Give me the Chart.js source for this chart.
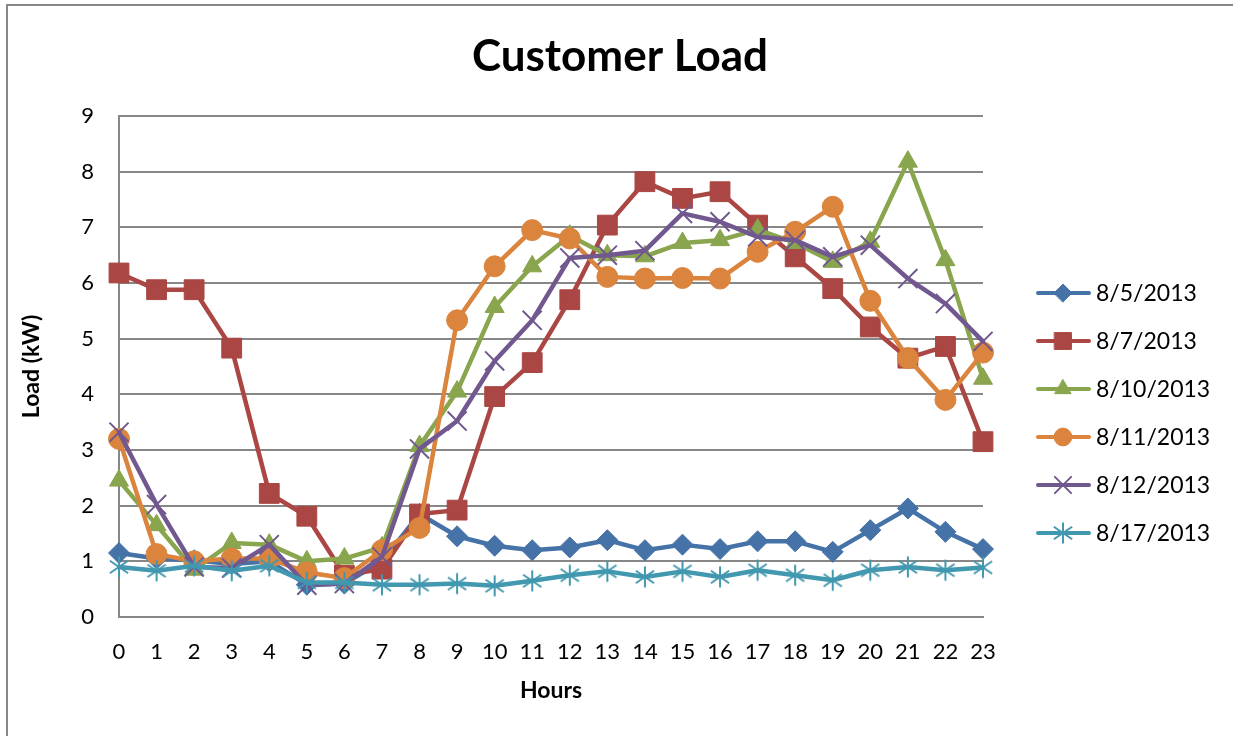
<!DOCTYPE html>
<html>
<head>
<meta charset="utf-8">
<title>Customer Load</title>
<script src="https://cdn.jsdelivr.net/npm/chart.js@4.4.0/dist/chart.umd.min.js"></script>
<style>
    html, body { margin: 0; padding: 0; background: #fff; }
    #wrap { width: 1233px; height: 736px; }
</style>
</head>
<body>
<div id="wrap"><canvas id="loadChart" width="1233" height="736"></canvas></div>
<script>
// --- Data ---
const hours = ['0', '1', '2', '3', '4', '5', '6', '7', '8', '9', '10', '11',
               '12', '13', '14', '15', '16', '17', '18', '19', '20', '21', '22', '23'];
const yTicks = [0, 1, 2, 3, 4, 5, 6, 7, 8, 9];
const dayLabels = ['8/5/2013', '8/7/2013', '8/10/2013', '8/11/2013', '8/12/2013', '8/17/2013'];

const load_0805 = [1.15, 1.05, 1.02, 0.95, 1.0, 0.58, 0.6, 1.0, 1.85, 1.45, 1.28, 1.2,
                   1.25, 1.38, 1.2, 1.3, 1.22, 1.36, 1.36, 1.17, 1.56, 1.95, 1.53, 1.22];
const load_0807 = [6.18, 5.88, 5.88, 4.83, 2.22, 1.81, 0.75, 0.86, 1.85, 1.92, 3.96, 4.57,
                   5.7, 7.04, 7.82, 7.52, 7.64, 7.04, 6.47, 5.9, 5.21, 4.65, 4.86, 3.15];
const load_0810 = [2.45, 1.65, 0.85, 1.33, 1.3, 1.0, 1.05, 1.25, 3.07, 4.05, 5.57, 6.3,
                   6.85, 6.5, 6.48, 6.72, 6.77, 6.96, 6.72, 6.38, 6.74, 8.18, 6.41, 4.28];
const load_0811 = [3.2, 1.13, 1.0, 1.05, 1.05, 0.8, 0.7, 1.2, 1.6, 5.33, 6.3, 6.95,
                   6.8, 6.11, 6.08, 6.09, 6.08, 6.56, 6.92, 7.37, 5.68, 4.65, 3.9, 4.75];
const load_0812 = [3.32, 2.02, 0.9, 0.88, 1.3, 0.57, 0.6, 1.08, 3.02, 3.52, 4.6, 5.33,
                   6.45, 6.5, 6.58, 7.25, 7.1, 6.83, 6.77, 6.47, 6.68, 6.08, 5.63, 4.95];
const load_0817 = [0.9, 0.83, 0.92, 0.83, 0.92, 0.62, 0.62, 0.58, 0.58, 0.6, 0.56, 0.65,
                   0.75, 0.82, 0.72, 0.82, 0.72, 0.84, 0.75, 0.66, 0.84, 0.9, 0.84, 0.89];

// --- Style ---
const gridColor = '#878787';
const fontFamily = 'Lato, "Open Sans", sans-serif';
const seriesColors = ['#4572A7', '#AA4643', '#89A54E', '#DB843D', '#71588F', '#4198AF'];

// asterisk marker (vertical bar + X), like Excel's
function makeAsterisk(color, size) {
    const c = document.createElement('canvas');
    c.width = size; c.height = size;
    const g = c.getContext('2d');
    const m = size / 2, r = size / 2 - 1.5;
    g.strokeStyle = color;
    g.lineWidth = 2;
    g.beginPath();
    g.moveTo(m, m - r); g.lineTo(m, m + r);
    g.moveTo(m - r * 0.87, m - r * 0.6); g.lineTo(m + r * 0.87, m + r * 0.6);
    g.moveTo(m - r * 0.87, m + r * 0.6); g.lineTo(m + r * 0.87, m - r * 0.6);
    g.stroke();
    return c;
}

const markerStyles = ['rectRot', 'rect', 'triangle', 'circle', 'crossRot', makeAsterisk(seriesColors[5], 24)];
const markerSizes = [10.5, 14, 11, 10.5, 13.5, 12];
const seriesData = [load_0805, load_0807, load_0810, load_0811, load_0812, load_0817];

const datasets = dayLabels.map((label, i) => ({
    label: label,
    data: seriesData[i],
    borderColor: seriesColors[i],
    backgroundColor: seriesColors[i],
    borderWidth: 4.5,
    borderJoinStyle: 'round',
    borderCapStyle: 'round',
    tension: 0,
    pointStyle: markerStyles[i],
    pointRadius: markerSizes[i],
    pointBackgroundColor: seriesColors[i],
    pointBorderColor: seriesColors[i],
    pointBorderWidth: i === 4 ? 2 : 1,
    clip: false,
    order: dayLabels.length - i // later series on top, as in Excel
}));

// --- frame, title and legend drawn like the Excel original ---
const excelFrame = {
    id: 'excelFrame',
    beforeDraw(chart) {
        const ctx = chart.ctx;
        ctx.save();
        ctx.strokeStyle = gridColor;
        ctx.lineWidth = 2;
        ctx.beginPath();
        ctx.moveTo(7, chart.height);
        ctx.lineTo(7, 5);
        ctx.lineTo(chart.width, 5);
        ctx.stroke();
        ctx.restore();
    },
    afterDraw(chart) {
        const ctx = chart.ctx;
        ctx.save();
        ctx.fillStyle = '#000';
        ctx.font = 'bold 44px ' + fontFamily;
        ctx.textAlign = 'center';
        ctx.textBaseline = 'middle';
        ctx.fillText('Customer Load', 620, 57);

        // legend
        ctx.font = '23px ' + fontFamily;
        ctx.textAlign = 'left';
        chart.data.datasets.forEach((ds, i) => {
            const y = 293 + i * 48;
            ctx.strokeStyle = ds.borderColor;
            ctx.lineWidth = 4;
            ctx.lineCap = 'round';
            ctx.beginPath();
            ctx.moveTo(1038, y);
            ctx.lineTo(1089, y);
            ctx.stroke();

            ctx.fillStyle = ds.pointBackgroundColor;
            ctx.strokeStyle = ds.pointBorderColor;
            ctx.lineWidth = ds.pointBorderWidth;
            Chart.helpers.drawPoint(ctx, {
                pointStyle: ds.pointStyle,
                radius: ds.pointRadius * 0.85,
                borderWidth: ds.pointBorderWidth,
                rotation: 0
            }, 1063, y);

            ctx.fillStyle = '#000';
            ctx.fillText(ds.label, 1096, y + 1);
        });
        ctx.restore();
    }
};

new Chart(document.getElementById('loadChart'), {
    type: 'line',
    data: { labels: hours, datasets: datasets },
    options: {
        responsive: false,
        animation: false,
        layout: { padding: { top: 116, right: 250, left: 0, bottom: 0 } },
        plugins: {
            legend: { display: false },
            title: { display: false },
            tooltip: { enabled: false }
        },
        scales: {
            x: {
                type: 'category',
                offset: false,
                grid: { display: false, drawTicks: false, offset: false },
                border: { display: true, color: gridColor, width: 2 },
                ticks: {
                    color: '#000',
                    font: { family: fontFamily, size: 22 },
                    padding: 22,
                    maxRotation: 0,
                    autoSkip: false
                },
                title: {
                    display: true,
                    text: 'Hours',
                    color: '#000',
                    font: { family: fontFamily, size: 23, weight: 'bold' },
                    padding: { top: 0, bottom: 32 }
                },
                afterFit(scale) { scale.height = 119; }
            },
            y: {
                min: yTicks[0],
                max: yTicks[yTicks.length - 1],
                afterBuildTicks(scale) { scale.ticks = yTicks.map(v => ({ value: v })); },
                grid: { color: gridColor, lineWidth: 2, drawTicks: false },
                border: { display: true, color: gridColor, width: 2 },
                ticks: {
                    color: '#000',
                    font: { family: fontFamily, size: 22 },
                    padding: 25
                },
                title: {
                    display: true,
                    text: 'Load (kW)',
                    color: '#000',
                    font: { family: fontFamily, size: 23, weight: 'bold' },
                    padding: { top: 18, bottom: 0 }
                },
                afterFit(scale) { scale.width = 119; }
            }
        }
    },
    plugins: [excelFrame]
});
</script>
</body>
</html>
